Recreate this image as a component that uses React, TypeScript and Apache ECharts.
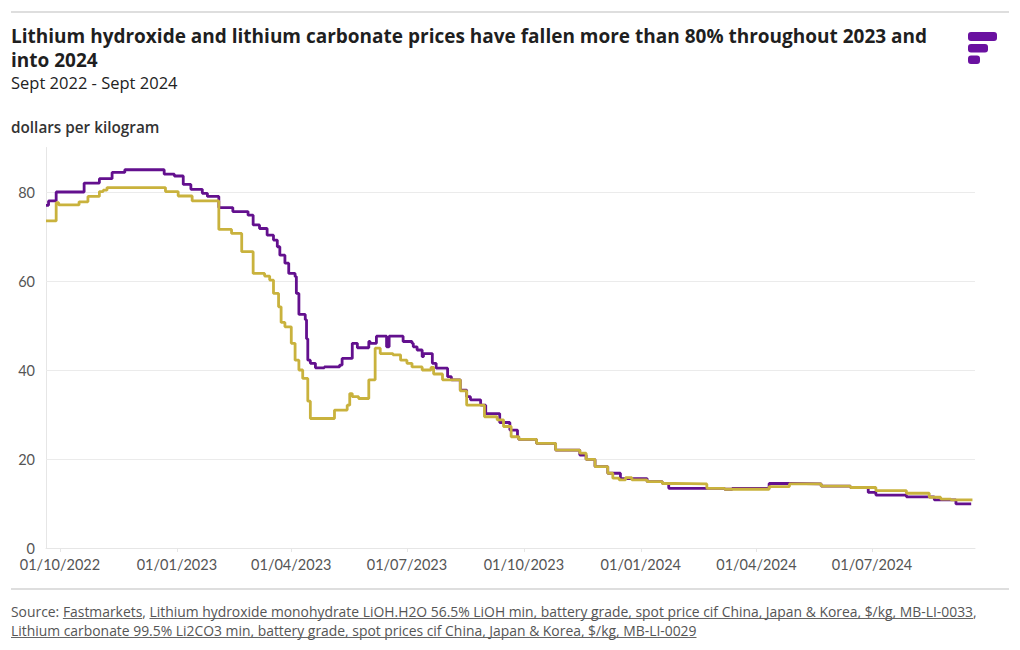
import React, { useEffect, useRef } from 'react';
import * as echarts from 'echarts';

const FONT = 'Lato, "Noto Sans", sans-serif';
const HEAD_FAMILY = '"Open Sans"';

// Lithium hydroxide monohydrate (purple), $/kg — plateau start dates and values
const hydroxideDates = [
  '2022-09-20', '2022-09-22', '2022-09-28', '2022-10-20', '2022-11-01', '2022-11-11', '2022-11-21',
  '2022-12-22', '2022-12-30', '2023-01-06', '2023-01-12', '2023-01-21', '2023-01-25', '2023-02-03',
  '2023-02-14', '2023-02-26', '2023-03-02', '2023-03-07', '2023-03-13', '2023-03-18', '2023-03-21',
  '2023-03-23', '2023-03-27', '2023-03-30', '2023-04-04', '2023-04-05', '2023-04-07', '2023-04-12',
  '2023-04-13', '2023-04-14', '2023-04-16', '2023-04-20', '2023-04-27', '2023-05-09', '2023-05-11',
  '2023-05-19', '2023-05-23', '2023-06-01', '2023-06-02', '2023-06-07', '2023-06-15', '2023-06-17',
  '2023-06-28', '2023-07-05', '2023-07-06', '2023-07-09', '2023-07-13', '2023-07-14', '2023-07-21',
  '2023-07-24', '2023-08-02', '2023-08-05', '2023-08-12', '2023-08-17', '2023-08-20', '2023-08-28',
  '2023-09-01', '2023-09-12', '2023-09-20', '2023-09-26', '2023-09-27', '2023-10-11', '2023-10-26',
  '2023-11-14', '2023-11-19', '2023-11-26', '2023-12-06', '2023-12-16', '2024-01-06', '2024-01-18',
  '2024-01-23', '2024-03-07', '2024-03-13', '2024-04-11', '2024-04-27', '2024-05-22', '2024-06-14',
  '2024-06-28', '2024-07-04', '2024-07-28', '2024-08-19', '2024-09-05', '2024-09-17',
];
const hydroxideValues = [
  77.0, 78.0, 80.0, 82.0, 83.0, 84.4, 85.0,
  84.0, 83.6, 81.7, 80.6, 79.7, 79.0, 76.5,
  75.6, 74.8, 72.6, 71.8, 70.3, 69.2, 67.7,
  65.8, 64.0, 61.7, 61.0, 57.2, 52.5, 51.3,
  47.0, 42.2, 41.5, 40.5, 40.7, 41.1, 42.6,
  46.0, 45.0, 46.4, 46.0, 47.6, 45.2, 47.6,
  46.4, 46.0, 45.2, 44.5, 43.0, 43.7, 41.5,
  40.4, 38.5, 37.8, 35.5, 34.0, 33.3, 32.1,
  30.2, 28.2, 26.5, 25.0, 24.4, 23.5, 22.0,
  20.9, 19.9, 18.3, 16.8, 15.6, 14.9, 14.5,
  13.4, 13.2, 13.4, 14.5, 14.4, 13.9, 13.6,
  12.5, 11.9, 11.5, 10.8, 9.9, 9.9,
];

// Lithium carbonate (gold), $/kg — plateau start dates and values
const carbonateDates = [
  '2022-09-20', '2022-09-28', '2022-09-30', '2022-10-16', '2022-10-23', '2022-11-01', '2022-11-04',
  '2022-11-07', '2022-12-23', '2023-01-02', '2023-01-13', '2023-02-03', '2023-02-13', '2023-02-21',
  '2023-03-02', '2023-03-11', '2023-03-15', '2023-03-18', '2023-03-22', '2023-03-24', '2023-03-27',
  '2023-04-01', '2023-04-04', '2023-04-07', '2023-04-10', '2023-04-14', '2023-04-16', '2023-05-05',
  '2023-05-15', '2023-05-17', '2023-05-19', '2023-05-24', '2023-06-01', '2023-06-06', '2023-06-10',
  '2023-06-20', '2023-06-26', '2023-07-01', '2023-07-05', '2023-07-13', '2023-07-20', '2023-07-22',
  '2023-07-29', '2023-08-12', '2023-08-17', '2023-08-31', '2023-09-10', '2023-09-15', '2023-09-21',
  '2023-09-27', '2023-10-11', '2023-10-26', '2023-11-14', '2023-11-19', '2023-11-26', '2023-12-06',
  '2023-12-10', '2023-12-15', '2023-12-20', '2023-12-25', '2024-01-06', '2024-01-18', '2024-01-27',
  '2024-02-22', '2024-03-07', '2024-04-11', '2024-04-27', '2024-05-22', '2024-06-14', '2024-07-04',
  '2024-07-28', '2024-08-15', '2024-08-24', '2024-09-01', '2024-09-18',
];
const carbonateValues = [
  73.5, 77.6, 77.1, 77.8, 79.0, 80.1, 80.4,
  81.0, 80.1, 79.1, 78.0, 71.6, 70.7, 66.6,
  61.7, 61.1, 60.2, 57.2, 54.2, 50.7, 49.7,
  46.0, 42.2, 40.0, 38.1, 33.0, 29.1, 31.0,
  32.1, 34.7, 34.0, 33.6, 37.8, 44.9, 43.7,
  43.4, 42.2, 41.5, 40.7, 40.0, 40.6, 39.1,
  37.8, 35.3, 32.1, 29.5, 28.8, 27.3, 25.0,
  24.4, 23.5, 22.0, 21.3, 19.9, 18.3, 16.8,
  15.7, 15.3, 15.8, 15.3, 14.9, 14.5, 14.4,
  13.4, 13.2, 13.8, 14.4, 13.9, 13.6, 12.9,
  12.3, 11.4, 11.0, 10.8, 10.7,
];

const xTickDates = [
  '2022-10-01', '2023-01-01', '2023-04-01', '2023-07-01',
  '2023-10-01', '2024-01-01', '2024-04-01', '2024-07-01',
];
const xRange = ['2022-09-20', '2024-09-20'];
const yTicks = [0, 20, 40, 60, 80];

const TITLE_1 = 'Lithium hydroxide and lithium carbonate prices have fallen more than 80% throughout 2023 and';
const TITLE_2 = 'into 2024';
const SUBTITLE = 'Sept 2022 - Sept 2024';
const UNIT = 'dollars per kilogram';
const SRC1_A = 'Source: ';
const SRC1_B = 'Fastmarkets';
const SRC1_C = ', ';
const SRC1_D = 'Lithium hydroxide monohydrate LiOH.H2O 56.5% LiOH min, battery grade, spot price cif China, Japan & Korea, $/kg, MB-LI-0033';
const SRC1_E = ',';
const SRC2 = 'Lithium carbonate 99.5% Li2CO3 min, battery grade, spot prices cif China, Japan & Korea, $/kg, MB-LI-0029';

const PURPLE = '#63108e';
const GOLD = '#c9b23d';
const LOGO = '#6a11a0';

function ts(s: string): number {
  const [y, m, d] = s.split('-').map(Number);
  return Date.UTC(y, m - 1, d);
}
function pad(n: number) {
  return n < 10 ? '0' + n : '' + n;
}
function fmt(v: number): string {
  const d = new Date(v);
  return `${pad(d.getUTCDate())}/${pad(d.getUTCMonth() + 1)}/${d.getUTCFullYear()}`;
}

export default function App() {
  const ref = useRef<HTMLDivElement>(null);
  useEffect(() => {
    if (!ref.current) return;
    const chart = echarts.init(ref.current, null, { renderer: 'svg' });

    const ctx = document.createElement('canvas').getContext('2d')!;
    const measure = (s: string, font: string) => {
      ctx.font = font;
      return ctx.measureText(s).width;
    };
    // font size that makes a text span a target width
    const fit = (s: string, weight: string, family: string, target: number) => {
      const m = measure(s, `${weight} 20px ${family}`);
      return Math.round((20 * target / m) * 10) / 10;
    };
    const titleSize = fit(TITLE_1, 'bold', HEAD_FAMILY, 918);
    const subSize = fit(SUBTITLE, 'normal', HEAD_FAMILY, 167);
    const unitSize = fit(UNIT, '600', HEAD_FAMILY, 148);
    const srcSize = fit(SRC1_A + SRC1_B + SRC1_C + SRC1_D + SRC1_E, 'normal', HEAD_FAMILY, 966);
    const titleFont = `bold ${titleSize}px ${HEAD_FAMILY}`;
    const subFont = `normal ${subSize}px ${HEAD_FAMILY}`;
    const unitFont = `600 ${unitSize}px ${HEAD_FAMILY}`;
    const srcFont = `normal ${srcSize}px ${HEAD_FAMILY}`;
    const w = (s: string) => measure(s, srcFont);

    const sx = 11;
    const l1y = 611.5;
    const l2y = 630.5;
    const ulOff = 7;
    const u1a = sx + w(SRC1_A);
    const u1b = u1a + w(SRC1_B);
    const u1c = u1b + w(SRC1_C);
    const u1d = u1c + w(SRC1_D);
    const u2b = sx + w(SRC2);
    const ulStyle = { stroke: '#666', lineWidth: 1 };
    const xTicks = xTickDates.map(ts);

    const option: any = {
      animation: false,
      grid: { left: 46, right: 45, top: 147.5, bottom: 102 },
      xAxis: {
        type: 'value',
        min: ts(xRange[0]),
        max: ts(xRange[1]),
        axisLine: { show: true, lineStyle: { color: '#e6e6e6', width: 1 } },
        axisTick: {
          show: true,
          length: 4,
          lineStyle: { color: '#e6e6e6' },
          customValues: xTicks,
        },
        axisLabel: {
          customValues: xTicks,
          formatter: (v: number) => fmt(v),
          color: '#555',
          fontFamily: FONT,
          fontSize: 14.5,
          lineHeight: 14.5,
          margin: 9,
        },
        splitLine: { show: false },
      },
      yAxis: {
        type: 'value',
        min: 0,
        max: 90,
        axisLine: { show: true, lineStyle: { color: '#e6e6e6', width: 1 } },
        axisTick: { show: false },
        axisLabel: {
          customValues: yTicks,
          color: '#555',
          fontFamily: FONT,
          fontSize: 14.5,
          lineHeight: 14.5,
          margin: 11,
        },
        splitLine: { show: false },
      },
      series: [
        {
          name: 'Lithium hydroxide',
          type: 'line',
          step: 'end',
          showSymbol: false,
          lineStyle: { color: PURPLE, width: 2.8 },
          itemStyle: { color: PURPLE },
          data: hydroxideDates.map((d, i) => [ts(d), hydroxideValues[i]]),
          markLine: {
            silent: true,
            symbol: 'none',
            label: { show: false },
            z: 1,
            lineStyle: { color: '#ebebeb', type: 'solid', width: 1 },
            data: yTicks.slice(1).map((v) => ({ yAxis: v })),
          },
        },
        {
          name: 'Lithium carbonate',
          type: 'line',
          step: 'end',
          showSymbol: false,
          lineStyle: { color: GOLD, width: 2.8 },
          itemStyle: { color: GOLD },
          data: carbonateDates.map((d, i) => [ts(d), carbonateValues[i]]),
        },
      ],
      graphic: [
        { type: 'rect', shape: { x: 11, y: 11, width: 998, height: 2 }, style: { fill: '#dedede' }, silent: true },
        { type: 'rect', shape: { x: 11, y: 588, width: 998, height: 2 }, style: { fill: '#dedede' }, silent: true },
        {
          type: 'text',
          x: 11,
          y: 23.5,
          style: {
            text: TITLE_1 + '\n' + TITLE_2,
            font: titleFont,
            fill: '#1f1f1f',
            lineHeight: 24,
            verticalAlign: 'top',
          },
        },
        {
          type: 'text',
          x: 11,
          y: 82.5,
          style: { text: SUBTITLE, font: subFont, fill: '#222', verticalAlign: 'middle' },
        },
        {
          type: 'text',
          x: 11,
          y: 127,
          style: { text: UNIT, font: unitFont, fill: '#333', verticalAlign: 'middle' },
        },
        { type: 'rect', shape: { x: 968, y: 32, width: 29, height: 9, r: 3 }, style: { fill: LOGO } },
        { type: 'rect', shape: { x: 968, y: 44, width: 20, height: 8.5, r: 3 }, style: { fill: LOGO } },
        { type: 'rect', shape: { x: 968, y: 55.5, width: 12, height: 8.5, r: 3 }, style: { fill: LOGO } },
        {
          type: 'text',
          x: sx,
          y: l1y,
          style: {
            text: SRC1_A + SRC1_B + SRC1_C + SRC1_D + SRC1_E,
            font: srcFont,
            fill: '#555',
            verticalAlign: 'middle',
          },
        },
        {
          type: 'text',
          x: sx,
          y: l2y,
          style: { text: SRC2, font: srcFont, fill: '#555', verticalAlign: 'middle' },
        },
        { type: 'line', shape: { x1: u1a, y1: l1y + ulOff, x2: u1b, y2: l1y + ulOff }, style: ulStyle },
        { type: 'line', shape: { x1: u1c, y1: l1y + ulOff, x2: u1d, y2: l1y + ulOff }, style: ulStyle },
        { type: 'line', shape: { x1: sx, y1: l2y + ulOff, x2: u2b, y2: l2y + ulOff }, style: ulStyle },
      ],
    };
    chart.setOption(option);
    return () => chart.dispose();
  }, []);
  return (
    <div
      ref={ref}
      style={{ position: 'absolute', left: 0, top: 0, width: 1020, height: 650, background: '#fff' }}
    />
  );
}
